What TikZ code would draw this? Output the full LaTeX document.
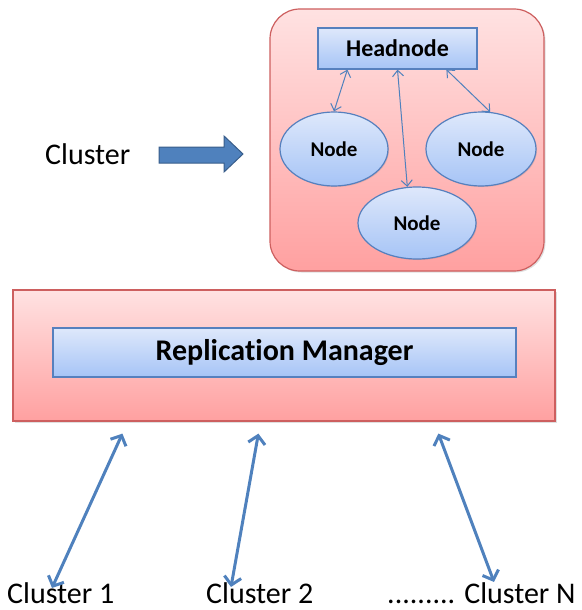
\documentclass[tikz,border=0pt]{standalone}
\usepackage{fontspec}
\setmainfont{Carlito}[Ligatures={NoCommon}]
\usetikzlibrary{arrows.meta}
\usetikzlibrary{shapes.geometric}
\usetikzlibrary{shadows}

\definecolor{pinktop}{RGB}{255,226,226}
\definecolor{pinkbot}{RGB}{255,160,160}
\definecolor{pinkline}{RGB}{205,95,95}
\definecolor{bluetop}{RGB}{222,232,251}
\definecolor{bluebot}{RGB}{166,196,246}
\definecolor{blueline}{RGB}{86,128,190}
\definecolor{arrowblue}{RGB}{79,129,189}
\definecolor{arrowline}{RGB}{56,93,138}

\tikzset{
  pinkbox/.style={draw=pinkline,line width=1.2pt,top color=pinktop,bottom color=pinkbot,
    drop shadow={opacity=0.25,shadow xshift=1.5pt,shadow yshift=-1.5pt}},
  bluebox/.style={draw=blueline,line width=1.2pt,top color=bluetop,bottom color=bluebot,inner sep=0pt,
    drop shadow={opacity=0.25,shadow xshift=1pt,shadow yshift=-1pt}},
  member/.style={ellipse,bluebox,font=\fontsize{21}{22}\selectfont\bfseries},
  label/.style={font=\fontsize{30}{32}\selectfont,inner sep=0pt,anchor=base west},
  link/.style={arrowblue,line width=1pt,{Straight Barb[length=6pt,width=11pt]}-{Straight Barb[length=6pt,width=11pt]}},
  feed/.style={arrowblue,line width=3pt,{Straight Barb[length=8pt,width=17pt]}-{Straight Barb[length=8pt,width=17pt]}},
}

\begin{document}
\begin{tikzpicture}[x=1pt,y=-1pt]
\useasboundingbox (0,0) rectangle (581,610);

% cluster with its headnode and nodes
\node[pinkbox,rounded corners=30pt,minimum width=274pt,minimum height=262pt] (cbox) at (407,140) {};
\node[bluebox,minimum width=159pt,minimum height=41pt,font=\fontsize{24}{25}\selectfont\bfseries] (head) at (397.5,48.5) {Headnode};
\node[member,minimum width=108pt,minimum height=74pt] (lnode) at (334,149) {Node};
\node[member,minimum width=110pt,minimum height=74pt] (rnode) at (481,149) {Node};
\node[member,minimum width=118pt,minimum height=72pt] (bnode) at (417,223) {Node};

\draw[link] ([xshift=30pt]head.south west) -- (lnode.north);
\draw[link] (head.south) -- (bnode.105);
\draw[link] ([xshift=129pt]head.south west) -- (rnode.76);

\node[label] (cl) at (45,164) {Cluster};
\draw[draw=arrowline,fill=arrowblue,line width=1pt] (159,147) -- (224,147) -- (224,136) -- (243,154)
  -- (224,172) -- (224,163) -- (159,163) -- cycle;

% replication manager
\node[pinkbox,minimum width=542pt,minimum height=131pt] (rmbox) at (284,355.5) {};
\node[bluebox,minimum width=463pt,minimum height=49pt,font=\fontsize{30}{32}\selectfont\bfseries] (rm) at (284.5,352.5) {Replication Manager};

\node[label] (c1) at (7,603) {Cluster 1};
\node[label] (c2) at (206,603) {Cluster 2};
\node[label] (cn) at (387,603) {......... Cluster N};

\coordinate (t1) at ([xshift=110pt,yshift=-12pt]rmbox.south west);
\coordinate (t2) at ([xshift=246pt,yshift=-12pt]rmbox.south west);
\coordinate (t3) at ([xshift=426pt,yshift=-12pt]rmbox.south west);

\draw[feed] (t1) -- ([xshift=45pt,yshift=-6pt]c1.north west);
\draw[feed] (t2) -- ([xshift=25pt,yshift=-5pt]c2.north west);
\draw[feed] (t3) -- ([xshift=107pt]cn.north west);

\end{tikzpicture}
\end{document}
